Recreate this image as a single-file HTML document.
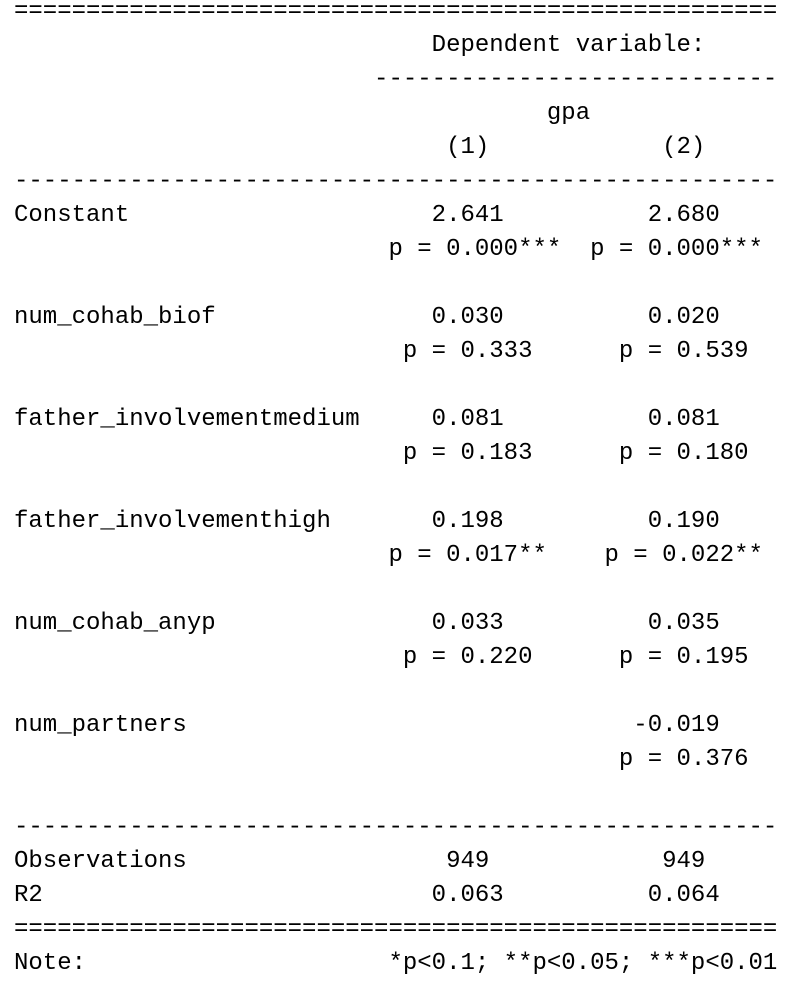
<!DOCTYPE html>
<html>
<head>
<meta charset="utf-8">
<style>
  html, body { margin: 0; padding: 0; background: #ffffff; }
  body { width: 790px; height: 988px; overflow: hidden; position: relative; }
  #tbl {
    position: absolute; left: 14px; top: -5px; margin: 0;
    font-family: "Liberation Mono", "DejaVu Sans Mono", monospace;
    font-size: 24px; line-height: 34px; color: #000;
    white-space: pre;
  }
</style>
</head>
<body>
<pre id="tbl"></pre>
<script>
// Each row: list of [startColumn, text]
const rows = [
  [[0, "=".repeat(53)]],
  [[29, "Dependent variable:"]],
  [[25, "-".repeat(28)]],
  [[37, "gpa"]],
  [[30, "(1)"], [45, "(2)"]],
  [[0, "-".repeat(53)]],
  [[0, "Constant"], [29, "2.641"], [44, "2.680"]],
  [[26, "p = 0.000***"], [40, "p = 0.000***"]],
  [],
  [[0, "num_cohab_biof"], [29, "0.030"], [44, "0.020"]],
  [[27, "p = 0.333"], [42, "p = 0.539"]],
  [],
  [[0, "father_involvementmedium"], [29, "0.081"], [44, "0.081"]],
  [[27, "p = 0.183"], [42, "p = 0.180"]],
  [],
  [[0, "father_involvementhigh"], [29, "0.198"], [44, "0.190"]],
  [[26, "p = 0.017**"], [41, "p = 0.022**"]],
  [],
  [[0, "num_cohab_anyp"], [29, "0.033"], [44, "0.035"]],
  [[27, "p = 0.220"], [42, "p = 0.195"]],
  [],
  [[0, "num_partners"], [43, "-0.019"]],
  [[42, "p = 0.376"]],
  [],
  [[0, "-".repeat(53)]],
  [[0, "Observations"], [30, "949"], [45, "949"]],
  [[0, "R2"], [29, "0.063"], [44, "0.064"]],
  [[0, "=".repeat(53)]],
  [[0, "Note:"], [26, "*p<0.1; **p<0.05; ***p<0.01"]]
];
const lines = rows.map(r => {
  let s = "";
  r.forEach(([c, t]) => { while (s.length < c) s += " "; s += t; });
  return s;
});
document.getElementById("tbl").textContent = lines.join("\n");
</script>
</body>
</html>
